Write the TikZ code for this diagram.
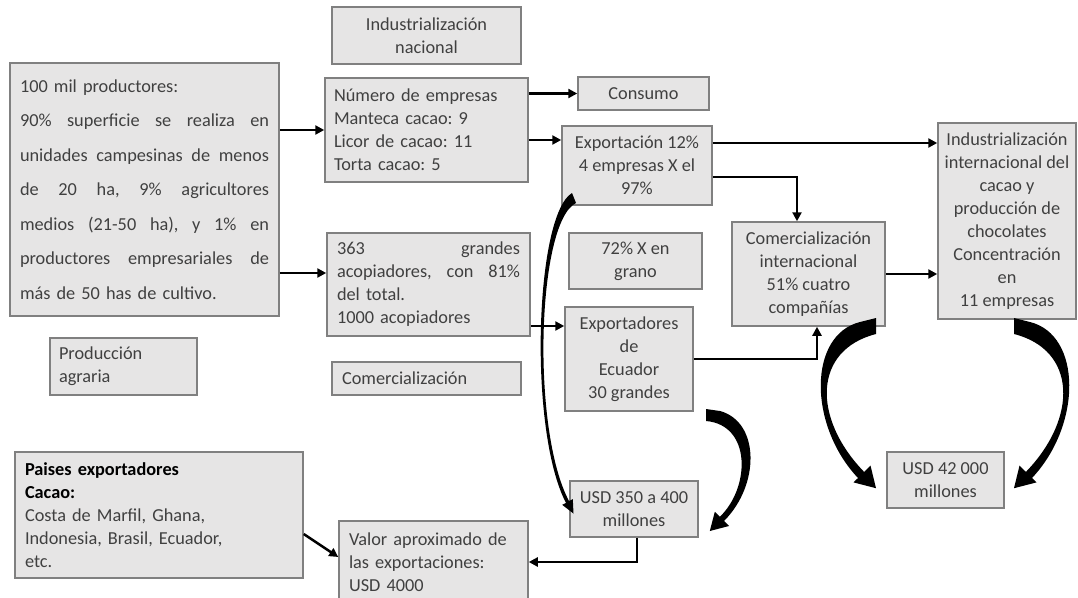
\documentclass[tikz,border=0pt]{standalone}
\usepackage{fontspec}
\setmainfont{Carlito}
\usetikzlibrary{arrows.meta,calc}
\definecolor{boxgray}{RGB}{230,229,229}
\definecolor{bordergray}{RGB}{128,128,128}
\definecolor{textgray}{RGB}{64,64,64}
\frenchspacing
\tikzset{
  box/.style={draw=bordergray, fill=boxgray, line width=1.5pt, inner sep=0pt,
    text=textgray, font=\fontsize{18.3}{23}\selectfont},
  lbox/.style={box, align=left},
  cbox/.style={box, align=center},
  arr/.style={line width=2.5pt, -{Triangle[length=9pt,width=9pt]}},
  curvearr/.style={fill=black, draw=none},
}
\newcommand{\jl}[1]{\makebox[249pt][l]{#1}}
\begin{document}
\begin{tikzpicture}[x=1pt,y=-1pt]
\useasboundingbox (0,0) rectangle (1078,597);
\fill[white] (0,0) rectangle (1078,597);

% boxes
\node[lbox, minimum width=269pt, minimum height=253pt, text width=249pt, inner xsep=10pt,
  font=\fontsize{18.3}{34.5}\selectfont] (big) at (144.5,189.5)
  {100 mil productores:\\
   \jl{90\%\hfill superficie\hfill se\hfill realiza\hfill en}\\
   \jl{unidades\hfill campesinas\hfill de\hfill menos}\\
   \jl{de\hfill 20\hfill ha,\hfill 9\%\hfill agricultores}\\
   \jl{medios\hfill (21-50\hfill ha),\hfill y\hfill 1\%\hfill en}\\
   \jl{productores\hfill empresariales\hfill de}\\
   más de 50 has de cultivo.};

\node[cbox, minimum width=189pt, minimum height=57pt] (indnac) at (426.5,35.5)
  {Industrialización\\nacional};

\node[lbox, minimum width=203pt, minimum height=104pt, text width=185pt, inner xsep=9pt] (numero) at (426.5,130)
  {Número de empresas\\Manteca cacao: 9\\Licor de cacao: 11\\Torta cacao: 5};

\node[cbox, minimum width=131pt, minimum height=33pt] (consumo) at (643.5,93.5) {Consumo};

\node[cbox, minimum width=150pt, minimum height=79pt] (export) at (637,165.5)
  {Exportación 12\%\\4 empresas X el\\97\%};

\node[lbox, minimum width=203pt, minimum height=103pt, text width=183pt, inner xsep=10pt] (acop) at (428.5,284.5)
  {\makebox[183pt][l]{363\hfill grandes}\\
   \makebox[183pt][l]{acopiadores,\hfill con\hfill 81\%}\\
   del total.\\1000 acopiadores};

\node[cbox, minimum width=133pt, minimum height=56pt] (grano) at (635.5,261) {72\% X en\\grano};

\node[cbox, minimum width=128pt, minimum height=104pt] (exportadores) at (629,359)
  {Exportadores\\de\\Ecuador\\30 grandes};

\node[lbox, minimum width=189pt, minimum height=33pt, text width=169pt, inner xsep=10pt] (comerc) at (426.5,378.5)
  {Comercialización};

\node[cbox, minimum width=153pt, minimum height=104pt] (comint) at (808.5,274)
  {Comercialización\\internacional\\51\% cuatro\\compañías};

\node[cbox, minimum width=138pt, minimum height=196pt] (indint) at (1007,221)
  {Industrialización\\internacional del\\cacao y\\producción de\\chocolates\\Concentración\\en\\11 empresas};

\node[cbox, minimum width=117pt, minimum height=56pt] (usdfortytwo) at (945.5,480)
  {USD 42 000\\millones};

\node[lbox, minimum width=147pt, minimum height=57pt, text width=129pt, inner xsep=9pt] (prodag) at (123.5,366.5)
  {Producción\\agraria};

\node[lbox, minimum width=288pt, minimum height=126pt, text width=268pt, inner xsep=10pt] (paises) at (159,515)
  {\textcolor{black}{\textbf{Paises exportadores}}\\
   \textcolor{black}{\textbf{Cacao:}}\\
   Costa de Marfil, Ghana,\\
   Indonesia, Brasil, Ecuador,\\
   etc.};

\node[lbox, minimum width=189pt, minimum height=82pt, text width=169pt, inner xsep=10pt] (valor) at (433.5,562)
  {Valor aproximado de\\las exportaciones:\\USD 4000};

\node[cbox, minimum width=128pt, minimum height=56pt] (usdthreefifty) at (634,509)
  {USD 350 a 400\\millones};

% straight connectors
\draw[arr] (big.east |- numero.west) -- (numero.west);
\coordinate (acopin) at ([yshift=11.5pt]acop.west);
\draw[arr] (big.east |- acopin) -- (acopin);
\draw[arr] (numero.east |- consumo.west) -- (consumo.west);
\coordinate (expin) at ([yshift=25.5pt]export.west);
\draw[arr] (numero.east |- expin) -- (expin);
\coordinate (indin) at ([yshift=78pt]indint.west);
\draw[arr] (export.east |- indin) -- (indin);
\coordinate (expout) at ([yshift=-11.5pt]export.east);
\coordinate (comtop) at ([xshift=-11.5pt]comint.north);
\draw[arr] (expout) -| (comtop);
\draw[arr] (comint.east) -- (comint.east -| indint.west);
\coordinate (exprin) at ([yshift=33pt]exportadores.west);
\draw[arr] (acop.east |- exprin) -- (exprin);
\coordinate (combot) at ([xshift=8.5pt]comint.south);
\draw[arr] (exportadores.east) -| (combot);
\coordinate (usdout) at ([xshift=3pt]usdthreefifty.south);
\draw[arr] (usdout) |- (valor.east);
\coordinate (paisout) at ([yshift=-19pt]paises.east);
\coordinate (valin) at ([yshift=5pt]valor.west);
\draw[arr] (paisout) -- (valin);

% curved arrows (filled shapes)
% thin: export -> usd350
\fill[curvearr] (572,193) .. controls (535,215) and (528,430) .. (566,503)
  -- (562.2,504.8) -- (573.5,513.6) -- (572.8,499.2) -- (569,501)
  .. controls (531,430) and (537,222) .. (576,203) -- cycle;
% small thick: exportadores -> usd350
\fill[curvearr] (706,421) -- (706,409) -- (720,411)
  .. controls (760,422) and (760,485) .. (724,521)
  -- (729,526) -- (709.8,531) -- (714.8,511.8) -- (719.8,516.8)
  .. controls (750,488) and (752,425) .. (706,421) -- cycle;
% big left: comint -> usd42
\fill[curvearr] (876,334) -- (876,318) -- (860,322)
  .. controls (808,335) and (808,425) .. (858,478)
  -- (853.5,482.4) -- (876,488.2) -- (870.5,465.6) -- (864.1,471.9)
  .. controls (812,418) and (813,350) .. (876,334) -- cycle;
% big right: indint -> usd42
\fill[curvearr] (1014,334) -- (1014,318) -- (1030,322)
  .. controls (1082,335) and (1082,425) .. (1032,478)
  -- (1036.5,482.4) -- (1014,488.2) -- (1019.5,465.6) -- (1025.9,471.9)
  .. controls (1078,418) and (1077,350) .. (1014,334) -- cycle;
\end{tikzpicture}
\end{document}
